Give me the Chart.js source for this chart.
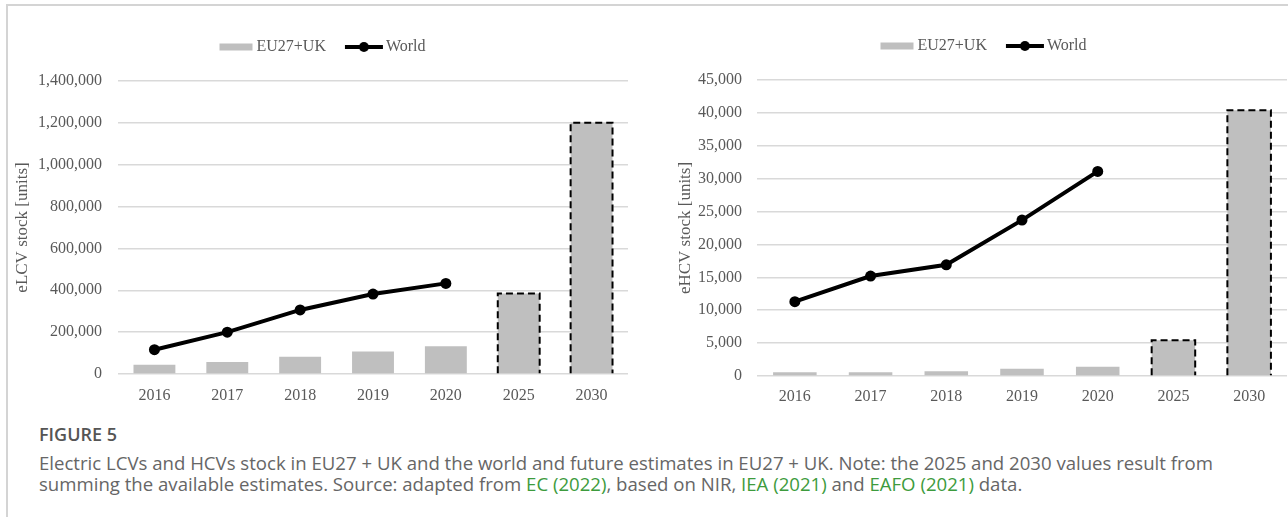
<!DOCTYPE html>
<html>
<head>
<meta charset="utf-8">
<script src="https://cdn.jsdelivr.net/npm/chart.js@4.4.1/dist/chart.umd.min.js"></script>
<style>
	html, body { margin: 0; padding: 0; background: #fff; width: 1288px; height: 517px; overflow: hidden; }
	.frame { position: absolute; left: 6px; top: 4px; width: 1400px; height: 600px; border-left: 2px solid #d4d4d4; border-top: 2px solid #d4d4d4; }
	canvas { position: absolute; top: 0; }
	#lcv { left: 0; }
	#hcv { left: 645px; }
	.caption { position: absolute; left: 39px; font-family: "Open Sans", sans-serif; color: #666; white-space: nowrap; }
	.fig { top: 423px; font-size: 18px; line-height: 22px; font-weight: 600; color: #555; }
	.text { top: 452px; font-size: 18.6px; line-height: 21px; }
	.text a { color: #3d9b3d; text-decoration: none; }
</style>
</head>
<body>
<div class="frame"></div>
<canvas id="lcv" width="645" height="410"></canvas>
<canvas id="hcv" width="670" height="412"></canvas>
<div class="caption fig">FIGURE 5</div>
<div class="caption text">Electric LCVs and HCVs stock in EU27 + UK and the world and future estimates in EU27 + UK. Note: the 2025 and 2030 values result from<br>summing the available estimates. Source: adapted from <a>EC (2022)</a>, based on NIR, <a>IEA (2021)</a> and <a>EAFO (2021)</a> data.</div>

<script>
const years = ['2016', '2017', '2018', '2019', '2020', '2025', '2030'];
const estimateYears = ['2025', '2030'];

// light commercial vehicles
const lcvEU = [44000, 57000, 82000, 107000, 133000, 385000, 1200000];
const lcvWorld = [116000, 200000, 306000, 382000, 433000, null, null];
const lcvTicks = [0, 200000, 400000, 600000, 800000, 1000000, 1200000, 1400000];

// heavy commercial vehicles
const hcvEU = [555, 555, 707, 1110, 1410, 5450, 40400];
const hcvWorld = [11300, 15200, 16900, 23700, 31100, null, null];
const hcvTicks = [0, 5000, 10000, 15000, 20000, 25000, 30000, 35000, 40000, 45000];

const grey = '#595959';
const barGrey = '#bfbfbf';
const serif = 'Liberation Serif';

function swatch(kind) {
	const c = document.createElement('canvas');
	c.width = 46;
	c.height = 12;
	const g = c.getContext('2d');
	if (kind === 'bar') {
		g.fillStyle = barGrey;
		g.fillRect(11, 2.5, 33, 7);
	} else {
		g.strokeStyle = '#000';
		g.lineWidth = 4;
		g.beginPath();
		g.moveTo(7, 6);
		g.lineTo(45, 6);
		g.stroke();
		g.fillStyle = '#000';
		g.beginPath();
		g.arc(26, 6, 5, 0, Math.PI * 2);
		g.fill();
	}
	return c;
}
const swatches = [swatch('bar'), swatch('line')];

// extra room between the legend and the plot
const legendGap = {
	id: 'legendGap',
	afterInit(chart) {
		const fit = chart.legend.fit;
		chart.legend.fit = function () {
			fit.call(this);
			this.height += 16;
		};
	}
};

// dashed outline on the estimate bars
const dashedEstimates = {
	id: 'dashedEstimates',
	afterDatasetsDraw(chart) {
		const meta = chart.getDatasetMeta(0);
		const ctx = chart.ctx;
		ctx.save();
		ctx.strokeStyle = '#000';
		ctx.lineWidth = 2;
		ctx.setLineDash([7, 4]);
		chart.data.labels.forEach((lab, i) => {
			if (!estimateYears.includes(lab)) return;
			const b = meta.data[i].getProps(['x', 'y', 'base', 'width'], true);
			const l = b.x - b.width / 2, r = b.x + b.width / 2;
			ctx.beginPath();
			ctx.moveTo(l, b.base);
			ctx.lineTo(l, b.y);
			ctx.lineTo(r, b.y);
			ctx.lineTo(r, b.base);
			ctx.stroke();
		});
		ctx.restore();
	}
};

function createStockChart(place, eu, world, ticks, title, opts) {
	return new Chart(place.getContext('2d'), {
		type: 'bar',
		data: {
			labels: years,
			datasets: [
				{
					label: 'EU27+UK',
					data: eu,
					backgroundColor: barGrey,
					barPercentage: 0.575,
					categoryPercentage: 1,
					order: 2
				},
				{
					type: 'line',
					label: 'World',
					data: world,
					borderColor: '#000',
					backgroundColor: '#000',
					borderWidth: 4,
					pointRadius: 5.5,
					pointBorderWidth: 0,
					pointBackgroundColor: '#000',
					tension: 0,
					order: 1
				}
			]
		},
		options: {
			responsive: false,
			animation: false,
			layout: { padding: opts.padding },
			plugins: {
				tooltip: { enabled: false },
				legend: {
					position: 'top',
					labels: {
						usePointStyle: true,
						pointStyleWidth: 34,
						padding: 18,
						color: grey,
						font: { family: serif, size: 16 },
						generateLabels: chart => chart.data.datasets.map((ds, i) => ({
							text: ds.label,
							pointStyle: swatches[i],
							datasetIndex: i,
							fontColor: grey,
							lineWidth: 0,
							strokeStyle: 'transparent',
							fillStyle: 'transparent',
							hidden: false
						}))
					}
				}
			},
			scales: {
				x: {
					grid: { display: false, drawTicks: false },
					border: { display: false },
					ticks: { color: grey, font: { family: serif, size: 16 }, padding: opts.xPad, maxRotation: 0 },
					afterFit: s => { s.height = 36; }
				},
				y: {
					min: ticks[0],
					max: ticks[ticks.length - 1],
					afterBuildTicks: s => { s.ticks = ticks.map(v => ({ value: v })); },
					grid: { color: '#d9d9d9', lineWidth: 1.5, drawTicks: false },
					border: { display: false },
					ticks: {
						color: grey,
						font: { family: serif, size: 16 },
						padding: opts.yPad,
						callback: v => v.toLocaleString('en-US')
					},
					title: {
						display: true,
						text: title,
						color: grey,
						font: { family: serif, size: 17 },
						padding: { top: 0, bottom: 0 }
					},
					afterFit: s => { s.width = opts.yWidth; }
				}
			}
		},
		plugins: [legendGap, dashedEstimates]
	});
}

createStockChart(document.getElementById('lcv'), lcvEU, lcvWorld, lcvTicks, 'eLCV stock [units]',
	{ padding: { left: 12, right: 17, top: 21, bottom: 0 }, yWidth: 106, yPad: 16, xPad: 12 });
createStockChart(document.getElementById('hcv'), hcvEU, hcvWorld, hcvTicks, 'eHCV stock [units]',
	{ padding: { left: 30, right: 28, top: 20, bottom: 0 }, yWidth: 82, yPad: 15, xPad: 11 });
</script>
</body>
</html>
